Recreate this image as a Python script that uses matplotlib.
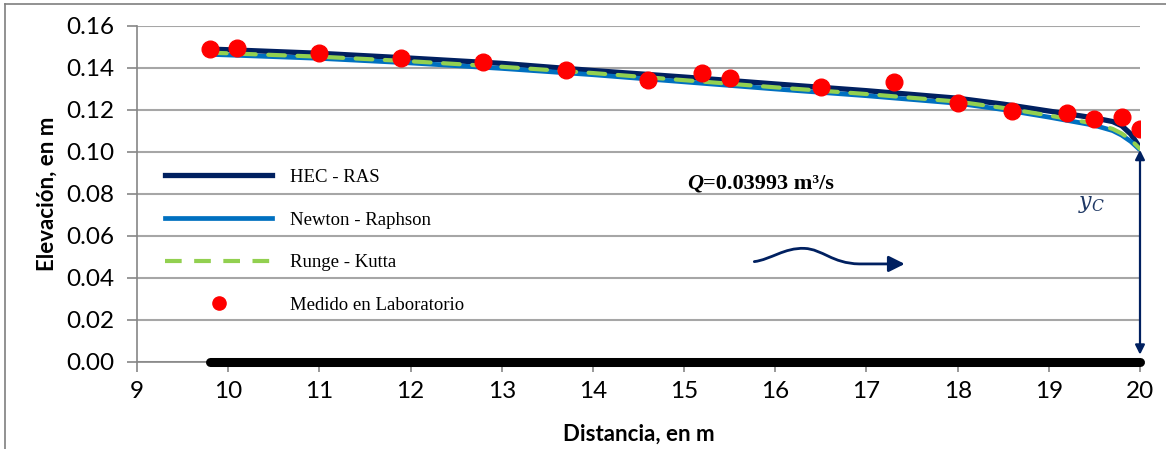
"""Perfil de flujo gradualmente variado: HEC-RAS vs. métodos numéricos vs. laboratorio."""

import matplotlib

matplotlib.use("Agg")
import matplotlib.pyplot as plt  # noqa: E402
from matplotlib.lines import Line2D  # noqa: E402
from matplotlib.patches import FancyArrowPatch  # noqa: E402
from matplotlib.path import Path  # noqa: E402

# --- datos -------------------------------------------------------------
x_hec = [9.8, 10.0, 11.0, 12.0, 13.0, 14.0, 15.0, 16.0, 17.0, 18.0, 18.5, 19.0, 19.5, 19.7, 19.8, 19.9, 20.0]
y_hec = [0.1490, 0.1487, 0.1470, 0.1447, 0.1422, 0.1388, 0.1357, 0.1324, 0.1292, 0.1256, 0.1228, 0.1195, 0.1162, 0.1145, 0.1125, 0.1085, 0.1020]

x_nr = [9.8, 10.0, 11.0, 12.0, 13.0, 14.0, 15.0, 16.0, 17.0, 18.0, 18.5, 19.0, 19.5, 19.7, 19.8, 19.9, 20.0]
y_nr = [0.1465, 0.1462, 0.1446, 0.1424, 0.1398, 0.1368, 0.1334, 0.1300, 0.1268, 0.1232, 0.1202, 0.1166, 0.1127, 0.1102, 0.1080, 0.1050, 0.1010]

x_rk = [9.8, 10.0, 11.0, 12.0, 13.0, 14.0, 15.0, 16.0, 17.0, 18.0, 18.5, 19.0, 19.5, 19.7, 19.8, 19.9, 20.0]
y_rk = [0.1473, 0.1470, 0.1454, 0.1432, 0.1406, 0.1376, 0.1342, 0.1308, 0.1276, 0.1240, 0.1210, 0.1174, 0.1135, 0.1110, 0.1088, 0.1058, 0.1015]

x_lab = [9.8, 10.1, 11.0, 11.9, 12.8, 13.7, 14.6, 15.2, 15.5, 16.5, 17.3, 18.0, 18.6, 19.2, 19.5, 19.8, 20.0]
y_lab = [0.1490, 0.1495, 0.1472, 0.1448, 0.1429, 0.1390, 0.1343, 0.1378, 0.1351, 0.1311, 0.1332, 0.1235, 0.1195, 0.1184, 0.1156, 0.1165, 0.1108]

x_fondo = [9.8, 20.0]
y_fondo = [0.0, 0.0]

y_critico = 0.1010
caudal = "=0.03993 m\u00b3/s"

xticks = list(range(9, 21))
yticks = [0.00, 0.02, 0.04, 0.06, 0.08, 0.10, 0.12, 0.14, 0.16]

NAVY = "#002060"
BLUE = "#0070C0"
GREEN = "#92D050"
GRID = "#A6A6A6"
SPINE = "#868686"

plt.rcParams["font.family"] = ["Lato", "DejaVu Sans"]

fig = plt.figure(figsize=(11.66, 4.49), dpi=100)
ax = fig.add_axes([137 / 1166, 1 - 362 / 449, (1140 - 137) / 1166, (362 - 26) / 449])

ax.plot(x_hec, y_hec, color=NAVY, lw=3.8, label="HEC - RAS", zorder=3, solid_capstyle="butt")
ax.plot(x_nr, y_nr, color=BLUE, lw=3.4, label="Newton - Raphson", zorder=3.5, solid_capstyle="butt")
ax.plot(x_rk, y_rk, color=GREEN, lw=3.0, ls=(0, (4, 3)), label="Runge - Kutta", zorder=4,
        dash_capstyle="round")
ax.plot(x_lab, y_lab, ls="none", marker="o", ms=12, color="#FF0000", label="Medido en Laboratorio",
        zorder=5)
ax.plot(x_fondo, y_fondo, color="black", lw=6.5, solid_capstyle="round", zorder=6, clip_on=False)

ax.set_xlim(9, 20)
ax.set_ylim(0, 0.16)
ax.set_xticks(xticks)
ax.set_yticks(yticks)
ax.set_yticklabels([f"{v:.2f}" for v in yticks])
ax.tick_params(axis="both", labelsize=17.5, color=SPINE, width=1.2, length=7.5, direction="out")
ax.tick_params(axis="y", pad=9)
ax.tick_params(axis="x", pad=6)
ax.grid(axis="y", color=GRID, lw=1.5)
ax.set_axisbelow(True)
for side in ("top", "right"):
    ax.spines[side].set_visible(False)
for side in ("left", "bottom"):
    ax.spines[side].set_color(SPINE)
    ax.spines[side].set_linewidth(1.2)

ax.set_xlabel("Distancia, en m", fontsize=16, fontweight="bold", labelpad=16)
ax.set_ylabel("Elevación, en m", fontsize=16, fontweight="bold", labelpad=6)

# leyenda sin marco, con la rejilla visible detrás
handles = [
    Line2D([], [], color=NAVY, lw=3.8),
    Line2D([], [], color=BLUE, lw=3.4),
    Line2D([], [], color=GREEN, lw=3.0, ls=(0, (4, 3))),
    Line2D([], [], ls="none", marker="o", ms=9.5, color="#FF0000"),
]
labels = ["HEC - RAS", "Newton - Raphson", "Runge - Kutta", "Medido en Laboratorio"]
ax.legend(handles, labels, loc="upper left", bbox_to_anchor=(0.028, 0.575), frameon=False,
          prop={"family": "Liberation Serif", "size": 13.5}, handlelength=5.7, handletextpad=0.95,
          labelspacing=1.36, borderpad=0, borderaxespad=0)

# caudal
ax.text(15.21, 0.0848, "Q", fontsize=16, fontweight="bold", fontstyle="italic",
        family="Liberation Serif", ha="right", va="center")
ax.text(15.21, 0.0848, caudal, fontsize=16, fontweight="bold", family="Liberation Serif",
        ha="left", va="center")

# tirante crítico
ax.annotate("", xy=(20, y_critico), xytext=(20, 0.0035),
            arrowprops=dict(arrowstyle="<|-|>", color=NAVY, lw=1.6, mutation_scale=14,
                            shrinkA=0, shrinkB=0), zorder=7, annotation_clip=False)
ax.text(19.47, 0.0748, "$y_C$", fontsize=16, color="#1F3864", ha="center", va="center",
        math_fontfamily="dejavuserif")

# flecha ondulada (dirección del flujo)
verts = [(15.77, 0.0478), (15.95, 0.0488), (16.10, 0.0545), (16.32, 0.0541),
         (16.52, 0.0537), (16.62, 0.0470), (16.92, 0.0467), (17.42, 0.0467)]
codes = [Path.MOVETO, Path.CURVE4, Path.CURVE4, Path.CURVE4,
         Path.CURVE4, Path.CURVE4, Path.CURVE4, Path.LINETO]
ax.add_patch(FancyArrowPatch(path=Path(verts, codes), arrowstyle="-|>", color=NAVY, lw=2.0,
                             mutation_scale=24, zorder=7))

# marco exterior del gráfico
fig.add_artist(Line2D([5 / 1166, 1], [1 - 4 / 449, 1 - 4 / 449], color="#7F7F7F", lw=1.2))
fig.add_artist(Line2D([5 / 1166, 5 / 1166], [0, 1 - 4 / 449], color="#7F7F7F", lw=1.2))

fig.savefig("out.png", dpi=100)
plt.close(fig)
